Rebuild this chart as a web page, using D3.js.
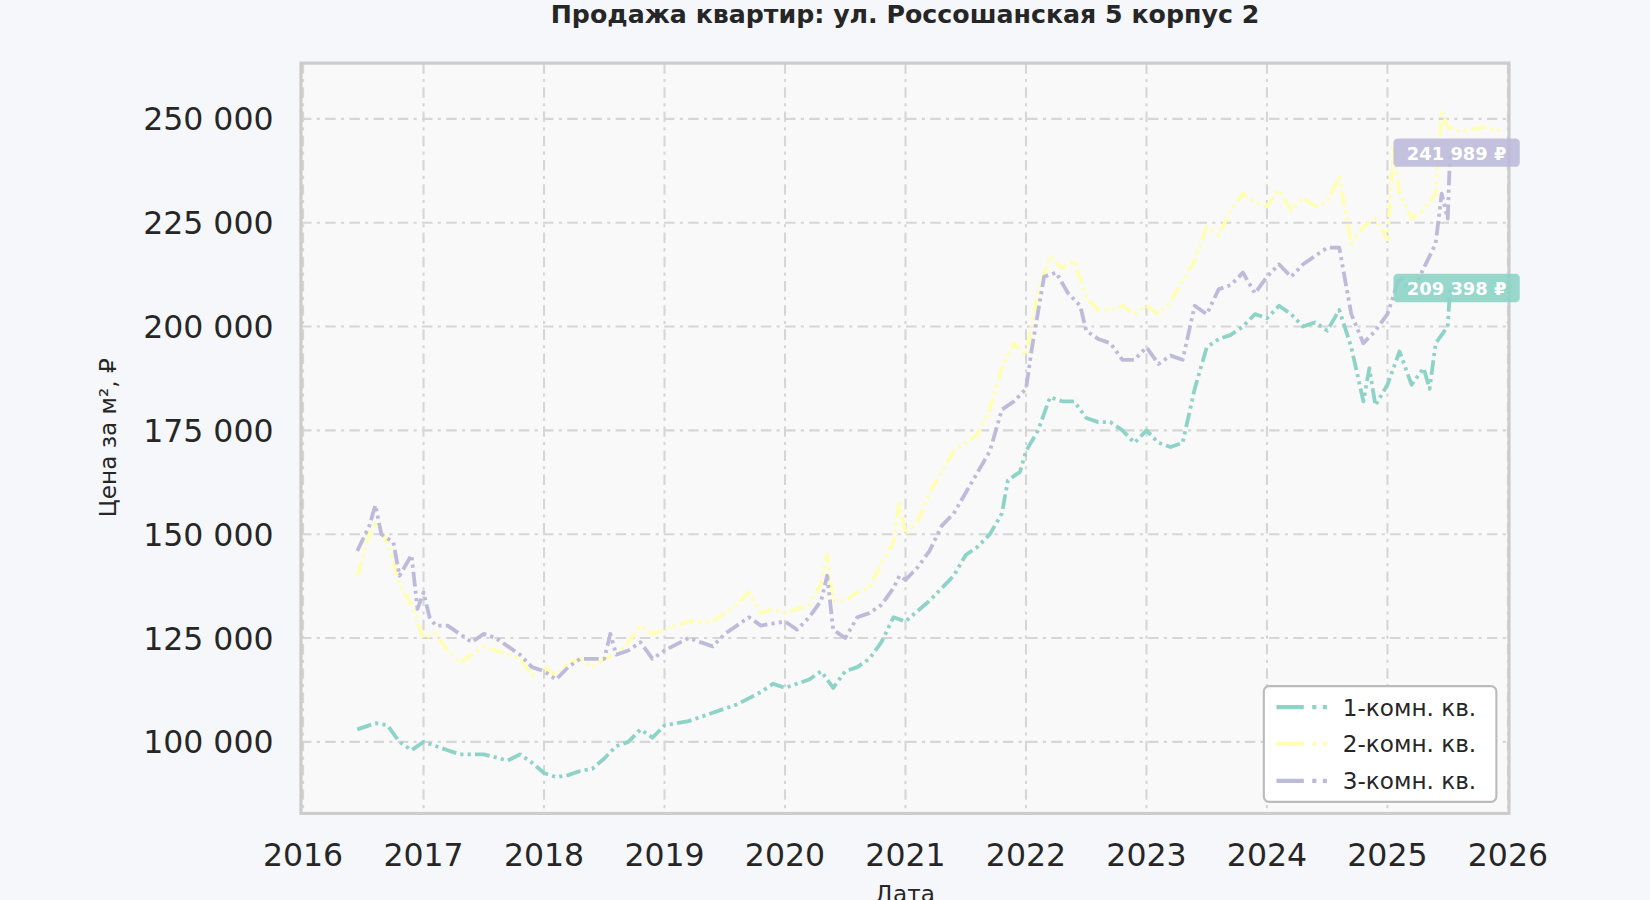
<!DOCTYPE html>
<html><head><meta charset="utf-8">
<script src="https://cdn.jsdelivr.net/npm/d3@7"></script>
<style>body{margin:0;background:#f5f7fb;font-family:"DejaVu Sans",sans-serif}</style>
</head><body><svg id="c" width="1650" height="900"></svg>
<script>
const t1=[2016.45,2016.5,2016.6,2016.7,2016.8,2016.9,2017.0,2017.1,2017.2,2017.3,2017.5,2017.7,2017.8,2017.9,2018.0,2018.1,2018.2,2018.3,2018.4,2018.5,2018.6,2018.7,2018.8,2018.9,2019.0,2019.2,2019.4,2019.6,2019.8,2019.9,2020.0,2020.2,2020.3,2020.4,2020.5,2020.6,2020.7,2020.8,2020.9,2021.0,2021.2,2021.3,2021.4,2021.5,2021.6,2021.7,2021.8,2021.85,2021.95,2022.0,2022.1,2022.2,2022.3,2022.4,2022.5,2022.6,2022.7,2022.8,2022.9,2023.0,2023.1,2023.2,2023.3,2023.4,2023.5,2023.6,2023.7,2023.8,2023.9,2024.0,2024.1,2024.2,2024.3,2024.4,2024.5,2024.6,2024.7,2024.8,2024.85,2024.9,2025.0,2025.1,2025.2,2025.3,2025.35,2025.4,2025.5,2025.52];
const v1=[103,103.5,104.5,104,100,98,100,99,98,97,97,95.5,97,95,92.5,91.5,92,93,93.5,96,99,100,103,101,104,105,107,109,112,114,113,115,117,113,117,118,120,124,130,129,134,137,140,145,147,150,155,163,165,170,175,183,182,182,178,177,177,175,172,175,172,171,172,185,195,197,198,200,203,202,205,203,200,201,199,204,195,182,190,181,186,194,186,190,185,196,200,209.4];
const t2=[2016.45,2016.55,2016.6,2016.7,2016.8,2016.9,2017.0,2017.1,2017.2,2017.3,2017.4,2017.5,2017.6,2017.7,2017.8,2017.9,2018.0,2018.1,2018.2,2018.3,2018.4,2018.5,2018.6,2018.7,2018.8,2018.9,2019.0,2019.2,2019.4,2019.5,2019.6,2019.7,2019.8,2019.9,2020.0,2020.2,2020.3,2020.35,2020.4,2020.5,2020.6,2020.7,2020.8,2020.9,2020.95,2021.0,2021.1,2021.2,2021.3,2021.4,2021.5,2021.6,2021.7,2021.8,2021.9,2022.0,2022.1,2022.2,2022.3,2022.4,2022.5,2022.6,2022.7,2022.8,2022.9,2023.0,2023.1,2023.2,2023.3,2023.4,2023.5,2023.6,2023.7,2023.8,2023.9,2024.0,2024.1,2024.2,2024.3,2024.4,2024.5,2024.6,2024.7,2024.8,2024.9,2025.0,2025.05,2025.1,2025.2,2025.3,2025.4,2025.45,2025.5,2025.6,2025.8,2025.95];
const v2=[140,150,153,148,138,133,125,126,122,119,121,123,122,121,120,116,118,116,119,120,118,120,121,124,128,126,127,129,129,131,133,136,131,132,131,133,138,145,134,134,136,137,143,148,158,150,153,160,165,170,172,174,180,190,196,193,208,217,214,216,207,204,204,205,203,205,203,206,211,216,224,222,228,232,230,229,233,228,231,229,230,236,220,224,226,221,243,232,226,228,232,252,248,247,248,247];
const t3=[2016.45,2016.55,2016.6,2016.65,2016.75,2016.8,2016.9,2016.95,2017.0,2017.05,2017.1,2017.2,2017.3,2017.4,2017.5,2017.6,2017.7,2017.8,2017.9,2018.0,2018.1,2018.2,2018.3,2018.4,2018.5,2018.55,2018.6,2018.7,2018.8,2018.9,2019.0,2019.2,2019.4,2019.5,2019.6,2019.7,2019.8,2020.0,2020.1,2020.2,2020.3,2020.35,2020.4,2020.5,2020.6,2020.7,2020.8,2020.9,2020.95,2021.0,2021.1,2021.2,2021.3,2021.4,2021.5,2021.6,2021.7,2021.8,2021.9,2022.0,2022.05,2022.15,2022.25,2022.35,2022.45,2022.5,2022.6,2022.7,2022.8,2022.9,2023.0,2023.1,2023.2,2023.3,2023.4,2023.5,2023.6,2023.7,2023.8,2023.9,2024.0,2024.1,2024.2,2024.3,2024.4,2024.5,2024.6,2024.7,2024.8,2024.9,2025.0,2025.1,2025.2,2025.3,2025.4,2025.45,2025.5,2025.52];
const v3=[146,152,157,150,148,140,145,132,136,130,128,128,126,124,126,125,123,121,118,117,115,118,120,120,120,126,121,122,124,120,122,125,123,126,128,130,128,129,127,130,134,140,127,125,130,131,133,137,140,139,142,146,152,155,160,165,170,180,182,185,195,212,213,208,205,199,197,196,192,192,195,191,193,192,205,203,209,210,213,208,212,215,212,215,217,219,219,203,196,199,203,212,208,214,220,232,226,242];
const names=["1-комн. кв.","2-комн. кв.","3-комн. кв."];
const colors=["#8dd3c7","#ffffb3","#bebada"];
const lastLabels=["209 398 ₽",null,"241 989 ₽"];
const yTicks=[100000,125000,150000,175000,200000,225000,250000];
const xTicks=[2016,2017,2018,2019,2020,2021,2022,2023,2024,2025,2026];

const svg=d3.select("#c").append("g").attr("transform","scale(1.0523)");
const L=286,R=1434,T=60,B=773;
const x=d3.scaleLinear().domain([2016,2026]).range([288,1433]);
const y=d3.scaleLinear().domain([100000,250000]).range([705,113]);
svg.append("rect").attr("x",L).attr("y",T).attr("width",R-L).attr("height",B-T).attr("fill","#f9f9f9");
const g=svg.append("g");
yTicks.forEach(v=>g.append("line").attr("x1",L).attr("x2",R).attr("y1",y(v)).attr("y2",y(v)).attr("stroke","#d6d6d6").attr("stroke-width",2).attr("stroke-dasharray","10,5,3,5"));
xTicks.forEach(v=>g.append("line").attr("y1",T).attr("y2",B).attr("x1",x(v)).attr("x2",x(v)).attr("stroke","#d6d6d6").attr("stroke-width",2).attr("stroke-dasharray","10,5,3,5"));
svg.append("clipPath").attr("id","cp").append("rect").attr("x",L).attr("y",T).attr("width",R-L).attr("height",B-T);
const series=[[t1,v1],[t2,v2],[t3,v3]];
const line=d3.line().x(d=>x(d[0])).y(d=>y(d[1]*1000));
series.forEach(([t,v],i)=>{
  svg.append("path").datum(t.map((tt,j)=>[tt,v[j]])).attr("d",line).attr("fill","none")
   .attr("stroke",colors[i]).attr("stroke-width",3.6).attr("stroke-linejoin","round").attr("stroke-dasharray","14,4,3,4,3,4").attr("clip-path","url(#cp)");
});
svg.append("rect").attr("x",L).attr("y",T).attr("width",R-L).attr("height",B-T).attr("fill","none").attr("stroke","#cccccc").attr("stroke-width",3);
[[0,t1,v1],[2,t3,v3]].forEach(([i,t,v])=>{
  const yy=y(v[v.length-1]*1000);
  const gl=svg.append("g");
  gl.append("rect").attr("x",x(2025.05)).attr("y",yy-13).attr("width",120).attr("height",27).attr("rx",4).attr("fill",colors[i]).attr("opacity",0.9);
  gl.append("text").attr("x",x(2025.05)+60).attr("y",yy+7).attr("text-anchor","middle").attr("fill","#fff").attr("font-weight","bold").attr("font-size",17).text(lastLabels[i]);
});
yTicks.forEach(v=>svg.append("text").attr("x",260).attr("y",y(v)+11).attr("text-anchor","end").attr("font-size",30).attr("fill","#262626").text(d3.format(",")(v).replace(/,/g," ")));
xTicks.forEach(v=>svg.append("text").attr("x",x(v)).attr("y",823).attr("text-anchor","middle").attr("font-size",30).attr("fill","#262626").text(v));
svg.append("text").attr("x",860).attr("y",857).attr("text-anchor","middle").attr("font-size",22).attr("fill","#262626").text("Дата");
svg.append("text").attr("transform","translate(110,416) rotate(-90)").attr("text-anchor","middle").attr("font-size",22).attr("fill","#262626").text("Цена за м², ₽");
svg.append("text").attr("x",860).attr("y",22).attr("text-anchor","middle").attr("font-size",24).attr("font-weight","bold").attr("fill","#262626").text("Продажа квартир: ул. Россошанская 5 корпус 2");
const lg=svg.append("g");
lg.append("rect").attr("x",1201).attr("y",652).attr("width",221).attr("height",110).attr("rx",5).attr("fill","#fff").attr("stroke","#bbb").attr("stroke-width",2);
names.forEach((n,i)=>{
  const yy=672+i*35;
  lg.append("line").attr("x1",1213).attr("x2",1262).attr("y1",yy).attr("y2",yy).attr("stroke",colors[i]).attr("stroke-width",4).attr("stroke-dasharray","26,8,4,6,4,6");
  lg.append("text").attr("x",1276).attr("y",yy+8).attr("font-size",22).attr("fill","#262626").text(n);
});
</script></body></html>
